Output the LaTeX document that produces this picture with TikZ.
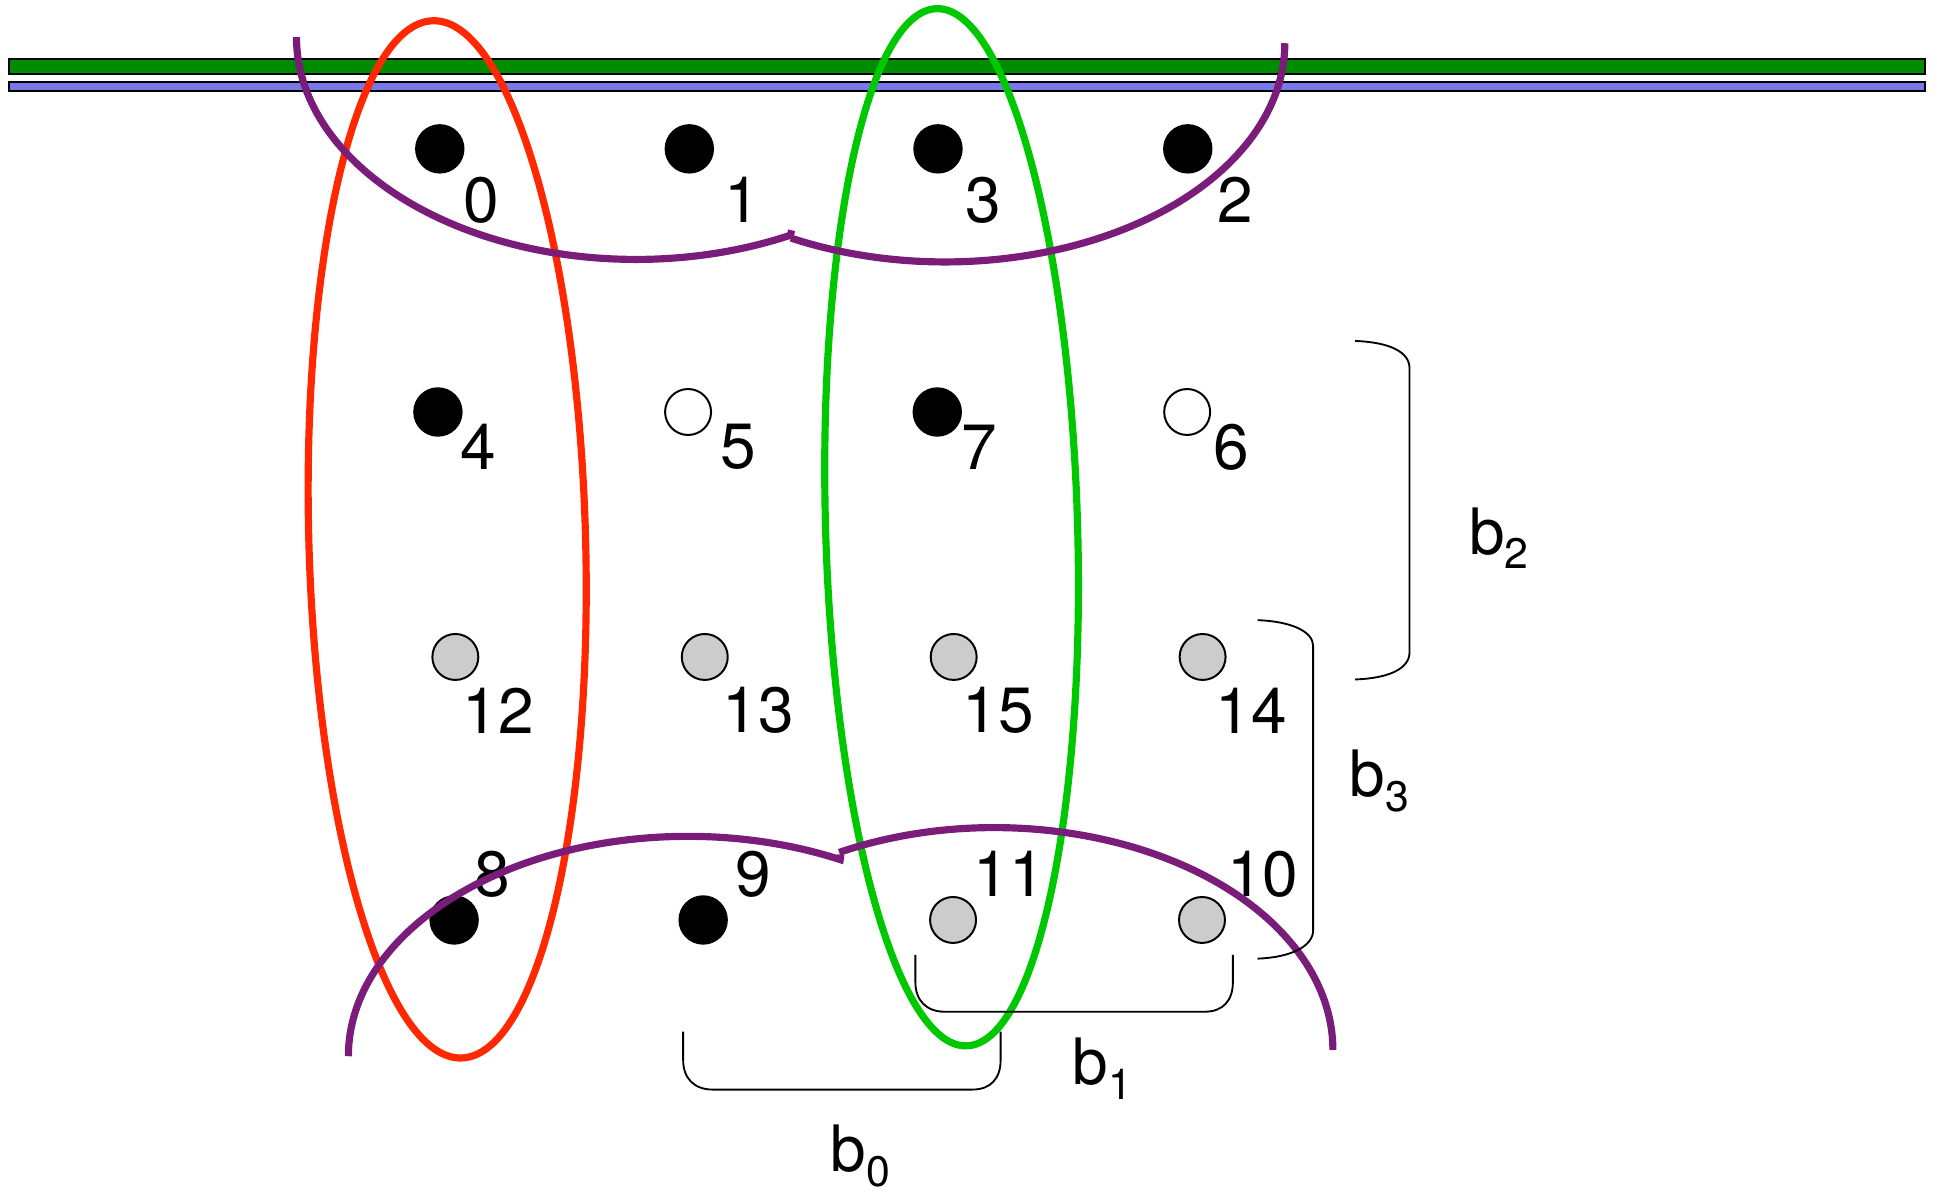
\documentclass[tikz,border=0pt]{standalone}
\usepackage{fontspec}
\setmainfont{TeX Gyre Heros}
\definecolor{barGreen}{RGB}{0,140,0}
\definecolor{barBlue}{RGB}{120,120,232}
\definecolor{ellRed}{RGB}{255,40,0}
\definecolor{ellGreen}{RGB}{0,200,0}
\definecolor{arcPurple}{RGB}{122,28,122}
\definecolor{dotGray}{RGB}{204,204,204}
\newcommand{\bsub}[1]{b\raisebox{-6pt}{\fontsize{17.3}{20}\selectfont #1}}
\begin{document}
\begin{tikzpicture}[x=0.5pt,y=-0.5pt,
  blackdot/.style={circle,fill=black,minimum size=20pt,inner sep=0},
  graydot/.style={circle,draw=black,fill=dotGray,line width=0.8pt,minimum size=18.6pt,inner sep=0},
  whitedot/.style={circle,draw=black,fill=white,line width=0.8pt,minimum size=18.6pt,inner sep=0},
  lbl/.style={inner sep=0,font=\fontsize{25.9}{30}\selectfont},
  blbl/.style={inner sep=0,anchor=base west,font=\fontsize{25.9}{30}\selectfont},
  barbox/.style={draw=black,line width=0.8pt},
  loopline/.style={line width=2.9pt},
  bracket/.style={draw=black,line width=0.75pt}
]
\useasboundingbox (0,0) rectangle (1568,965);
% bars
\path[barbox,fill=barGreen] (7,47.5) rectangle (1558,60);
\path[barbox,fill=barBlue] (7,66) rectangle (1558,74);
% dots
\node[blackdot] (d0) at (356,120.5) {};
\node[blackdot] (d1) at (558,120.5) {};
\node[blackdot] (d3) at (759.3,120.5) {};
\node[blackdot] (d2) at (961.5,120.5) {};
\node[blackdot] (d4) at (354.5,333.5) {};
\node[whitedot] (d5) at (557,333.5) {};
\node[blackdot] (d7) at (758.7,333.5) {};
\node[whitedot] (d6) at (961,333.5) {};
\node[graydot] (d12) at (368.6,531.8) {};
\node[graydot] (d13) at (570.5,531.8) {};
\node[graydot] (d15) at (772,531.8) {};
\node[graydot] (d14) at (973.5,531.8) {};
\node[blackdot] (d8) at (367.6,744.7) {};
\node[blackdot] (d9) at (569.2,744.7) {};
\node[graydot] (d11) at (771.5,744.7) {};
\node[graydot] (d10) at (973,744.7) {};
% labels
\node[lbl] (l0) at (390,162) {0};
\node[lbl] (l1) at (601,162) {1};
\node[lbl] (l3) at (796,162) {3};
\node[lbl] (l2) at (1000,162) {2};
\node[lbl] (l4) at (387,362) {4};
\node[lbl] (l5) at (598,362) {5};
\node[lbl] (l7) at (793,362) {7};
\node[lbl] (l6) at (997,362) {6};
\node[lbl] (l12) at (403.5,575) {12};
\node[lbl] (l13) at (614,575) {13};
\node[lbl] (l15) at (808,575) {15};
\node[lbl] (l14) at (1012.7,575) {14};
\node[lbl] (l8) at (398.3,707.7) {8};
\node[lbl] (l9) at (609.7,707.7) {9};
\node[lbl] (l11) at (817,707.7) {11};
\node[lbl] (l10) at (1022.3,707.7) {10};
% ellipses
\draw[loopline,ellRed,rotate around={1.58:(362,436.6)}] (362,436.6) ellipse[x radius=112,y radius=420];
\draw[loopline,ellGreen,rotate around={1.66:(770.3,426.8)}] (770.3,426.8) ellipse[x radius=102,y radius=420];
% purple arcs
\draw[loopline,arcPurple] (240,30) arc[start angle=180,end angle=63,x radius=275,y radius=180] -- ++(1,-4);
\draw[loopline,arcPurple] (640.2,192.7) arc[start angle=117,end angle=0,x radius=275,y radius=177];
\draw[loopline,arcPurple] (282,855) arc[start angle=180,end angle=296.6,x radius=275,y radius=178] -- ++(0.5,-4);
\draw[loopline,arcPurple] (679.3,690) arc[start angle=242.7,end angle=360,x radius=274,y radius=180];
% brackets
\draw[bracket] (1097,276) .. controls (1125,277) and (1141,285) .. (1141,298) -- (1141,528) .. controls (1141,541) and (1125,549) .. (1097,550);
\draw[bracket] (1018,502) .. controls (1045,503) and (1063,511) .. (1063,523) -- (1063,753) .. controls (1063,766) and (1045,775) .. (1018,776);
\draw[bracket] (741,773) -- (741,795) .. controls (741,810) and (750,819) .. (765,819) -- (975,819) .. controls (990,819) and (998,810) .. (998,795) -- (998,773);
\draw[bracket] (553,835) -- (553,858) .. controls (553,873) and (562,882) .. (577,882) -- (787,882) .. controls (802,882) and (810,873) .. (810,858) -- (810,835);
% bracket labels
\node[blbl] (b0) at (672,948.5) {\bsub{0}};
\node[blbl] (b1) at (868,878) {\bsub{1}};
\node[blbl] (b2) at (1189,448.5) {\bsub{2}};
\node[blbl] (b3) at (1092,645) {\bsub{3}};
\end{tikzpicture}
\end{document}
